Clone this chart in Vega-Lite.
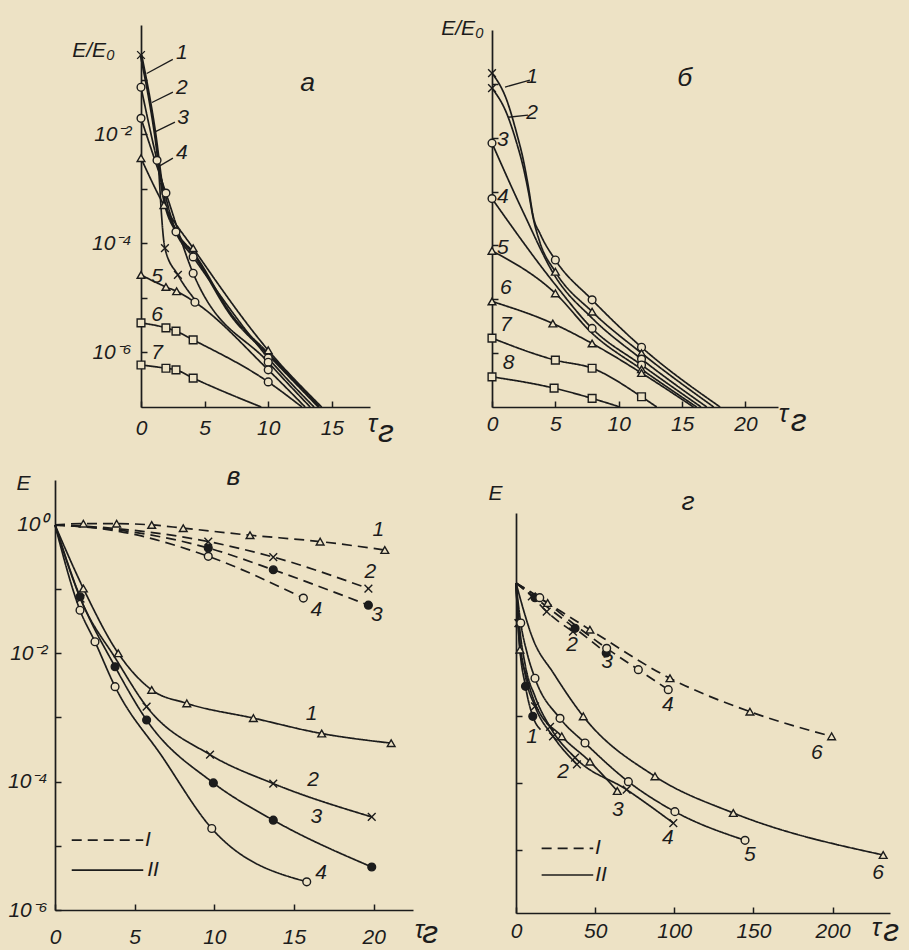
{
"$schema": "https://vega.github.io/schema/vega-lite/v6.json",
"width": 909, "height": 950, "autosize": "none", "padding": 0,
"background": "#ede2c5",
"config": {
 "view": {"stroke": null},
 "axis": {"domainColor":"#1c1c1c","domainWidth":1.7,"tickColor":"#1c1c1c","tickWidth":1.5,"labelColor":"#1c1c1c","labelFont":"Liberation Sans Narrow, Liberation Sans, sans-serif","labelFontSize":21,"labelFontStyle":"italic","titleFont":"Liberation Sans Narrow, Liberation Sans, sans-serif","titleColor":"#1c1c1c","titleFontStyle":"italic","titleFontWeight":"normal","grid":false,"labelFlush":false},
 "text": {"font":"Liberation Sans Narrow, Liberation Sans, sans-serif","fontStyle":"italic","color":"#1c1c1c"}
},
"datasets": {
 "curves": [
  {"p":"a","s":"1","d":"II","x":0,"y":0.282,"m":"x"},
  {"p":"a","s":"1","d":"II","x":1.1,"y":0.01047},
  {"p":"a","s":"1","d":"II","x":1.73,"y":8.32e-4},
  {"p":"a","s":"1","d":"II","x":2.83,"y":1.549e-4},
  {"p":"a","s":"1","d":"II","x":4.1,"y":6.61e-5},
  {"p":"a","s":"1","d":"II","x":7.2,"y":4.47e-6},
  {"p":"a","s":"1","d":"II","x":10,"y":9.33e-7},
  {"p":"a","s":"1","d":"II","x":14,"y":1e-7},
  {"p":"a","s":"1b","d":"II","x":1.35,"y":3.55e-3},
  {"p":"a","s":"1b","d":"II","x":1.88,"y":8.13e-5,"m":"x"},
  {"p":"a","s":"1b","d":"II","x":2.9,"y":2.63e-5,"m":"x"},
  {"p":"a","s":"1b","d":"II","x":4.3,"y":8.91e-6},
  {"p":"a","s":"2","d":"II","x":0,"y":0.0724,"m":"o"},
  {"p":"a","s":"2","d":"II","x":1.26,"y":3.31e-3,"m":"o"},
  {"p":"a","s":"2","d":"II","x":2.75,"y":1.622e-4,"m":"o"},
  {"p":"a","s":"2","d":"II","x":4.1,"y":5.62e-5,"m":"o"},
  {"p":"a","s":"2","d":"II","x":10,"y":7.94e-7,"m":"o"},
  {"p":"a","s":"2","d":"II","x":13.6,"y":1e-7},
  {"p":"a","s":"3","d":"II","x":0,"y":0.0195,"m":"o"},
  {"p":"a","s":"3","d":"II","x":1.96,"y":8.32e-4,"m":"o"},
  {"p":"a","s":"3","d":"II","x":4.1,"y":2.82e-5,"m":"o"},
  {"p":"a","s":"3","d":"II","x":10,"y":6.61e-7,"m":"o"},
  {"p":"a","s":"3","d":"II","x":13.3,"y":1e-7},
  {"p":"a","s":"4","d":"II","x":0,"y":3.63e-3,"m":"t"},
  {"p":"a","s":"4","d":"II","x":1.8,"y":5.01e-4,"m":"t"},
  {"p":"a","s":"4","d":"II","x":4.1,"y":8.13e-5,"m":"t"},
  {"p":"a","s":"4","d":"II","x":10,"y":1.096e-6,"m":"t"},
  {"p":"a","s":"4","d":"II","x":14.2,"y":1e-7},
  {"p":"a","s":"5","d":"II","x":0,"y":2.63e-5,"m":"t"},
  {"p":"a","s":"5","d":"II","x":1.96,"y":1.585e-5,"m":"t"},
  {"p":"a","s":"5","d":"II","x":2.8,"y":1.318e-5,"m":"t"},
  {"p":"a","s":"5","d":"II","x":4.24,"y":8.32e-6,"m":"o"},
  {"p":"a","s":"5","d":"II","x":10,"y":4.79e-7,"m":"o"},
  {"p":"a","s":"5","d":"II","x":12.9,"y":1e-7},
  {"p":"a","s":"6","d":"II","x":0,"y":3.47e-6,"m":"s"},
  {"p":"a","s":"6","d":"II","x":1.96,"y":2.82e-6,"m":"s"},
  {"p":"a","s":"6","d":"II","x":2.75,"y":2.45e-6,"m":"s"},
  {"p":"a","s":"6","d":"II","x":4.1,"y":1.70e-6,"m":"s"},
  {"p":"a","s":"6","d":"II","x":10,"y":2.88e-7,"m":"o"},
  {"p":"a","s":"6","d":"II","x":12.65,"y":1e-7},
  {"p":"a","s":"7","d":"II","x":0,"y":5.89e-7,"m":"s"},
  {"p":"a","s":"7","d":"II","x":1.96,"y":5.13e-7,"m":"s"},
  {"p":"a","s":"7","d":"II","x":2.75,"y":4.79e-7,"m":"s"},
  {"p":"a","s":"7","d":"II","x":4.1,"y":3.39e-7,"m":"s"},
  {"p":"a","s":"7","d":"II","x":9.45,"y":1e-7},

  {"p":"b","s":"1","d":"II","x":0,"y":0.158,"m":"x"},
  {"p":"b","s":"1","d":"II","x":1.16,"y":0.0501},
  {"p":"b","s":"1","d":"II","x":1.95,"y":0.012},
  {"p":"b","s":"1","d":"II","x":2.47,"y":3.89e-3},
  {"p":"b","s":"1","d":"II","x":2.87,"y":1.23e-3},
  {"p":"b","s":"1","d":"II","x":3.26,"y":3.39e-4},
  {"p":"b","s":"1","d":"II","x":3.79,"y":1.66e-4},
  {"p":"b","s":"1","d":"II","x":5,"y":5.37e-5,"m":"o"},
  {"p":"b","s":"1","d":"II","x":7.9,"y":9.77e-6,"m":"o"},
  {"p":"b","s":"1","d":"II","x":11.8,"y":1.288e-6,"m":"o"},
  {"p":"b","s":"1","d":"II","x":18,"y":1e-7},
  {"p":"b","s":"2","d":"II","x":0,"y":0.0832,"m":"x"},
  {"p":"b","s":"2","d":"II","x":1.16,"y":0.0282},
  {"p":"b","s":"2","d":"II","x":1.95,"y":7.94e-3},
  {"p":"b","s":"2","d":"II","x":2.47,"y":2.82e-3},
  {"p":"b","s":"2","d":"II","x":2.87,"y":1e-3},
  {"p":"b","s":"2","d":"II","x":3.26,"y":3.16e-4},
  {"p":"b","s":"2","d":"II","x":3.79,"y":1.122e-4},
  {"p":"b","s":"2","d":"II","x":5,"y":3.24e-5,"m":"t"},
  {"p":"b","s":"2","d":"II","x":7.9,"y":5.89e-6,"m":"t"},
  {"p":"b","s":"2","d":"II","x":11.8,"y":1e-6,"m":"t"},
  {"p":"b","s":"2","d":"II","x":17.5,"y":1e-7},
  {"p":"b","s":"3","d":"II","x":0,"y":7.94e-3,"m":"o"},
  {"p":"b","s":"3","d":"II","x":2.5,"y":3.98e-4},
  {"p":"b","s":"3","d":"II","x":5,"y":2.63e-5},
  {"p":"b","s":"3","d":"II","x":7.9,"y":4.47e-6},
  {"p":"b","s":"3","d":"II","x":11.8,"y":7.76e-7,"m":"o"},
  {"p":"b","s":"3","d":"II","x":16.95,"y":1e-7},
  {"p":"b","s":"4","d":"II","x":0,"y":7.41e-4,"m":"o"},
  {"p":"b","s":"4","d":"II","x":5,"y":1.862e-5},
  {"p":"b","s":"4","d":"II","x":7.9,"y":2.88e-6,"m":"o"},
  {"p":"b","s":"4","d":"II","x":11.8,"y":6.03e-7,"m":"o"},
  {"p":"b","s":"4","d":"II","x":16.5,"y":1e-7},
  {"p":"b","s":"5","d":"II","x":0,"y":7.94e-5,"m":"t"},
  {"p":"b","s":"5","d":"II","x":5,"y":1.288e-5,"m":"t"},
  {"p":"b","s":"5","d":"II","x":7.9,"y":2.34e-6},
  {"p":"b","s":"5","d":"II","x":11.8,"y":5.01e-7,"m":"t"},
  {"p":"b","s":"5","d":"II","x":16.15,"y":1e-7},
  {"p":"b","s":"6","d":"II","x":0,"y":9.12e-6,"m":"t"},
  {"p":"b","s":"6","d":"II","x":4.8,"y":3.55e-6,"m":"t"},
  {"p":"b","s":"6","d":"II","x":7.9,"y":1.514e-6,"m":"t"},
  {"p":"b","s":"6","d":"II","x":11.8,"y":4.27e-7,"m":"t"},
  {"p":"b","s":"6","d":"II","x":15.9,"y":1e-7},
  {"p":"b","s":"7","d":"II","x":0,"y":1.905e-6,"m":"s"},
  {"p":"b","s":"7","d":"II","x":5,"y":7.41e-7,"m":"s"},
  {"p":"b","s":"7","d":"II","x":7.9,"y":5.25e-7,"m":"s"},
  {"p":"b","s":"7","d":"II","x":11.8,"y":1.549e-7,"m":"s"},
  {"p":"b","s":"7","d":"II","x":13,"y":1e-7},
  {"p":"b","s":"8","d":"II","x":0,"y":3.63e-7,"m":"s"},
  {"p":"b","s":"8","d":"II","x":4.9,"y":2.24e-7,"m":"s"},
  {"p":"b","s":"8","d":"II","x":7.9,"y":1.445e-7,"m":"s"},
  {"p":"b","s":"8","d":"II","x":10.1,"y":1e-7},

  {"p":"v","s":"I1","d":"I","x":0,"y":1},
  {"p":"v","s":"I1","d":"I","x":1.78,"y":1.047,"m":"t"},
  {"p":"v","s":"I1","d":"I","x":3.87,"y":1.047,"m":"t"},
  {"p":"v","s":"I1","d":"I","x":6.07,"y":1.0,"m":"t"},
  {"p":"v","s":"I1","d":"I","x":8.05,"y":0.891,"m":"t"},
  {"p":"v","s":"I1","d":"I","x":12.24,"y":0.692,"m":"t"},
  {"p":"v","s":"I1","d":"I","x":16.64,"y":0.55,"m":"t"},
  {"p":"v","s":"I1","d":"I","x":20.7,"y":0.407,"m":"t"},
  {"p":"v","s":"I2","d":"I","x":0,"y":1},
  {"p":"v","s":"I2","d":"I","x":4,"y":0.871},
  {"p":"v","s":"I2","d":"I","x":9.62,"y":0.55,"m":"x"},
  {"p":"v","s":"I2","d":"I","x":13.7,"y":0.316,"m":"x"},
  {"p":"v","s":"I2","d":"I","x":19.67,"y":0.102,"m":"x"},
  {"p":"v","s":"I3","d":"I","x":0,"y":1},
  {"p":"v","s":"I3","d":"I","x":4,"y":0.832},
  {"p":"v","s":"I3","d":"I","x":9.62,"y":0.437,"m":"f"},
  {"p":"v","s":"I3","d":"I","x":13.7,"y":0.2,"m":"f"},
  {"p":"v","s":"I3","d":"I","x":19.67,"y":0.0562,"m":"f"},
  {"p":"v","s":"I4","d":"I","x":0,"y":1},
  {"p":"v","s":"I4","d":"I","x":4,"y":0.794},
  {"p":"v","s":"I4","d":"I","x":9.62,"y":0.324,"m":"o"},
  {"p":"v","s":"I4","d":"I","x":15.59,"y":0.0724,"m":"o"},
  {"p":"v","s":"II1","d":"II","x":0,"y":1},
  {"p":"v","s":"II1","d":"II","x":1.78,"y":0.1023,"m":"t"},
  {"p":"v","s":"II1","d":"II","x":3.97,"y":0.01,"m":"t"},
  {"p":"v","s":"II1","d":"II","x":6.07,"y":2.69e-3,"m":"t"},
  {"p":"v","s":"II1","d":"II","x":8.27,"y":1.66e-3,"m":"t"},
  {"p":"v","s":"II1","d":"II","x":12.45,"y":9.77e-4,"m":"t"},
  {"p":"v","s":"II1","d":"II","x":16.74,"y":5.62e-4,"m":"t"},
  {"p":"v","s":"II1","d":"II","x":21.1,"y":3.98e-4,"m":"t"},
  {"p":"v","s":"II2","d":"II","x":0,"y":1},
  {"p":"v","s":"II2","d":"II","x":1.6,"y":0.0708,"m":"x"},
  {"p":"v","s":"II2","d":"II","x":3.85,"y":7.94e-3},
  {"p":"v","s":"II2","d":"II","x":5.75,"y":1.479e-3,"m":"x"},
  {"p":"v","s":"II2","d":"II","x":9.73,"y":2.63e-4,"m":"x"},
  {"p":"v","s":"II2","d":"II","x":13.7,"y":9.33e-5,"m":"x"},
  {"p":"v","s":"II2","d":"II","x":19.88,"y":2.82e-5,"m":"x"},
  {"p":"v","s":"II3","d":"II","x":0,"y":1},
  {"p":"v","s":"II3","d":"II","x":1.57,"y":0.0759,"m":"f"},
  {"p":"v","s":"II3","d":"II","x":3.77,"y":6.17e-3,"m":"f"},
  {"p":"v","s":"II3","d":"II","x":5.75,"y":9.12e-4,"m":"f"},
  {"p":"v","s":"II3","d":"II","x":9.94,"y":9.55e-5,"m":"f"},
  {"p":"v","s":"II3","d":"II","x":13.7,"y":2.51e-5,"m":"f"},
  {"p":"v","s":"II3","d":"II","x":19.88,"y":4.68e-6,"m":"f"},
  {"p":"v","s":"II4","d":"II","x":0,"y":1},
  {"p":"v","s":"II4","d":"II","x":1.57,"y":0.0468,"m":"o"},
  {"p":"v","s":"II4","d":"II","x":2.51,"y":0.0151,"m":"o"},
  {"p":"v","s":"II4","d":"II","x":3.77,"y":3.02e-3,"m":"o"},
  {"p":"v","s":"II4","d":"II","x":6.7,"y":2.51e-4},
  {"p":"v","s":"II4","d":"II","x":9.84,"y":1.862e-5,"m":"o"},
  {"p":"v","s":"II4","d":"II","x":15.8,"y":2.75e-6,"m":"o"},
  {"p":"v","s":"legI","d":"I","x":1.05,"y":1.23e-5},
  {"p":"v","s":"legI","d":"I","x":5.54,"y":1.23e-5},
  {"p":"v","s":"legII","d":"II","x":1.05,"y":4.17e-6},
  {"p":"v","s":"legII","d":"II","x":5.54,"y":4.17e-6},

  {"p":"g","s":"I2","d":"I","x":0,"y":1},
  {"p":"g","s":"I2","d":"I","x":10,"y":0.631,"m":"x"},
  {"p":"g","s":"I2","d":"I","x":19.4,"y":0.372,"m":"x"},
  {"p":"g","s":"I2","d":"I","x":36,"y":0.186,"m":"x"},
  {"p":"g","s":"I3","d":"I","x":0,"y":1},
  {"p":"g","s":"I3","d":"I","x":12,"y":0.603,"m":"f"},
  {"p":"g","s":"I3","d":"I","x":37.3,"y":0.209,"m":"f"},
  {"p":"g","s":"I3","d":"I","x":57,"y":0.0891,"m":"f"},
  {"p":"g","s":"I4","d":"I","x":0,"y":1},
  {"p":"g","s":"I4","d":"I","x":15,"y":0.603,"m":"o"},
  {"p":"g","s":"I4","d":"I","x":40,"y":0.209},
  {"p":"g","s":"I4","d":"I","x":57.3,"y":0.1047,"m":"o"},
  {"p":"g","s":"I4","d":"I","x":77.3,"y":0.0501,"m":"o"},
  {"p":"g","s":"I4","d":"I","x":96.2,"y":0.0251,"m":"o"},
  {"p":"g","s":"I6","d":"I","x":0,"y":1},
  {"p":"g","s":"I6","d":"I","x":20,"y":0.501,"m":"t"},
  {"p":"g","s":"I6","d":"I","x":46.7,"y":0.1995,"m":"t"},
  {"p":"g","s":"I6","d":"I","x":97.3,"y":0.0372,"m":"t"},
  {"p":"g","s":"I6","d":"I","x":147.8,"y":0.01175,"m":"t"},
  {"p":"g","s":"I6","d":"I","x":199.4,"y":5.01e-3,"m":"t"},
  {"p":"g","s":"II1","d":"II","x":0,"y":1},
  {"p":"g","s":"II1","d":"II","x":2,"y":0.141},
  {"p":"g","s":"II1","d":"II","x":6,"y":0.0282,"m":"f"},
  {"p":"g","s":"II1","d":"II","x":10.6,"y":0.01,"m":"f"},
  {"p":"g","s":"II1","d":"II","x":15.5,"y":6.31e-3},
  {"p":"g","s":"II2","d":"II","x":0,"y":1},
  {"p":"g","s":"II2","d":"II","x":1.5,"y":0.251,"m":"x"},
  {"p":"g","s":"II2","d":"II","x":6,"y":0.0398},
  {"p":"g","s":"II2","d":"II","x":12,"y":0.01413,"m":"x"},
  {"p":"g","s":"II2","d":"II","x":23.4,"y":5.01e-3,"m":"x"},
  {"p":"g","s":"II2","d":"II","x":38.5,"y":1.905e-3,"m":"x"},
  {"p":"g","s":"II3","d":"II","x":0,"y":1},
  {"p":"g","s":"II3","d":"II","x":2.5,"y":0.1,"m":"t"},
  {"p":"g","s":"II3","d":"II","x":6,"y":0.0447},
  {"p":"g","s":"II3","d":"II","x":12,"y":0.01585},
  {"p":"g","s":"II3","d":"II","x":28.9,"y":5.01e-3,"m":"t"},
  {"p":"g","s":"II3","d":"II","x":46.7,"y":2.09e-3,"m":"t"},
  {"p":"g","s":"II3","d":"II","x":64,"y":7.59e-4,"m":"t"},
  {"p":"g","s":"II4","d":"II","x":0,"y":1},
  {"p":"g","s":"II4","d":"II","x":2,"y":0.251,"m":"x"},
  {"p":"g","s":"II4","d":"II","x":6,"y":0.0562},
  {"p":"g","s":"II4","d":"II","x":12,"y":0.01995},
  {"p":"g","s":"II4","d":"II","x":21.5,"y":6.92e-3,"m":"x"},
  {"p":"g","s":"II4","d":"II","x":37.3,"y":2.40e-3,"m":"x"},
  {"p":"g","s":"II4","d":"II","x":69.9,"y":7.94e-4,"m":"x"},
  {"p":"g","s":"II4","d":"II","x":99.4,"y":2.51e-4,"m":"x"},
  {"p":"g","s":"II5","d":"II","x":0,"y":1},
  {"p":"g","s":"II5","d":"II","x":3,"y":0.251,"m":"o"},
  {"p":"g","s":"II5","d":"II","x":7,"y":0.0891},
  {"p":"g","s":"II5","d":"II","x":12,"y":0.0372,"m":"o"},
  {"p":"g","s":"II5","d":"II","x":27.8,"y":9.33e-3,"m":"o"},
  {"p":"g","s":"II5","d":"II","x":43.6,"y":3.98e-3,"m":"o"},
  {"p":"g","s":"II5","d":"II","x":71,"y":1.047e-3,"m":"o"},
  {"p":"g","s":"II5","d":"II","x":100.4,"y":3.72e-4,"m":"o"},
  {"p":"g","s":"II5","d":"II","x":144.7,"y":1.38e-4,"m":"o"},
  {"p":"g","s":"II6","d":"II","x":0,"y":1},
  {"p":"g","s":"II6","d":"II","x":10.9,"y":0.141},
  {"p":"g","s":"II6","d":"II","x":23.6,"y":0.0447},
  {"p":"g","s":"II6","d":"II","x":42.5,"y":0.01,"m":"t"},
  {"p":"g","s":"II6","d":"II","x":87.8,"y":1.259e-3,"m":"t"},
  {"p":"g","s":"II6","d":"II","x":137.3,"y":3.55e-4,"m":"t"},
  {"p":"g","s":"II6","d":"II","x":232,"y":8.32e-5,"m":"t"},
  {"p":"g","s":"legI","d":"I","x":16.2,"y":1.047e-4},
  {"p":"g","s":"legI","d":"I","x":48.8,"y":1.047e-4},
  {"p":"g","s":"legII","d":"II","x":16.2,"y":4.17e-5},
  {"p":"g","s":"legII","d":"II","x":48.8,"y":4.17e-5}
 ],
 "labels": [
  {"p":"a","t":"1","k":"n","x":3.22,"y":0.302},
  {"p":"a","t":"2","k":"n","x":3.22,"y":0.0692},
  {"p":"a","t":"3","k":"n","x":3.3,"y":0.0195},
  {"p":"a","t":"4","k":"n","x":3.22,"y":4.47e-3},
  {"p":"a","t":"5","k":"n","x":1.26,"y":2.4e-5},
  {"p":"a","t":"6","k":"n","x":1.26,"y":4.79e-6},
  {"p":"a","t":"7","k":"n","x":1.26,"y":9.77e-7},
  {"p":"a","t":"а","k":"ttl","x":13.1,"y":0.0851},
  {"p":"a","t":"г","k":"sub","x":19.25,"y":3.48e-8},
  {"p":"b","t":"1","k":"n","x":3.16,"y":0.135},
  {"p":"b","t":"2","k":"n","x":3.16,"y":0.0288},
  {"p":"b","t":"3","k":"n","x":0.85,"y":9.12e-3},
  {"p":"b","t":"4","k":"n","x":0.85,"y":7.94e-4},
  {"p":"b","t":"5","k":"n","x":0.85,"y":8.91e-5},
  {"p":"b","t":"6","k":"n","x":1.1,"y":1.62e-5},
  {"p":"b","t":"7","k":"n","x":1.1,"y":3.31e-6},
  {"p":"b","t":"8","k":"n","x":1.3,"y":6.61e-7},
  {"p":"b","t":"б","k":"ttl","x":15.2,"y":0.129},
  {"p":"b","t":"г","k":"sub","x":24.2,"y":5.5e-8},
  {"p":"v","t":"1","k":"n","x":20.3,"y":0.832},
  {"p":"v","t":"2","k":"n","x":19.8,"y":0.186},
  {"p":"v","t":"3","k":"n","x":20.2,"y":0.0398},
  {"p":"v","t":"4","k":"n","x":16.4,"y":0.0468},
  {"p":"v","t":"1","k":"n","x":16.1,"y":1.148e-3},
  {"p":"v","t":"2","k":"n","x":16.2,"y":1.072e-4},
  {"p":"v","t":"3","k":"n","x":16.4,"y":2.82e-5},
  {"p":"v","t":"4","k":"n","x":16.7,"y":3.72e-6},
  {"p":"v","t":"в","k":"ttl","x":11.2,"y":5.58},
  {"p":"v","t":"I","k":"n","x":5.84,"y":1.23e-5},
  {"p":"v","t":"II","k":"n","x":6.15,"y":4.17e-6},
  {"p":"v","t":"г","k":"sub","x":23.55,"y":4.38e-7},
  {"p":"g","t":"2","k":"n","x":35.4,"y":0.1175},
  {"p":"g","t":"3","k":"n","x":57.5,"y":0.0661},
  {"p":"g","t":"4","k":"n","x":96,"y":0.01479},
  {"p":"g","t":"6","k":"n","x":190,"y":2.82e-3},
  {"p":"g","t":"1","k":"n","x":10.1,"y":4.9e-3},
  {"p":"g","t":"2","k":"n","x":29.7,"y":1.445e-3},
  {"p":"g","t":"3","k":"n","x":64.4,"y":3.98e-4},
  {"p":"g","t":"4","k":"n","x":96,"y":1.479e-4},
  {"p":"g","t":"5","k":"n","x":147.8,"y":8.32e-5},
  {"p":"g","t":"6","k":"n","x":228.7,"y":4.47e-5},
  {"p":"g","t":"г","k":"ttl","x":108.7,"y":16.2},
  {"p":"g","t":"I","k":"n","x":51.8,"y":1.047e-4},
  {"p":"g","t":"II","k":"n","x":53.7,"y":4.17e-5},
  {"p":"g","t":"г","k":"sub","x":237,"y":6.03e-6}
 ],
 "leaders": [
  {"p":"a","x":2.5,"y":0.234,"x2":0.45,"y2":0.129},
  {"p":"a","x":2.51,"y":0.0589,"x2":0.86,"y2":0.038},
  {"p":"a","x":2.67,"y":0.0166,"x2":1.1,"y2":0.011},
  {"p":"a","x":2.51,"y":3.63e-3,"x2":1.34,"y2":2.51e-3},
  {"p":"b","x":2.99,"y":0.1175,"x2":1.03,"y2":0.0871},
  {"p":"b","x":2.84,"y":0.0263,"x2":1.26,"y2":0.024}
 ]
},
"layer": [
 {
  "encoding": {
   "x": {"field":"x","type":"quantitative","scale":{"domain":[0,18],"range":[141,370],"nice":false,"zero":false},
         "axis":{"orient":"bottom","offset":-543,"values":[0,5,10,15],"tickSize":-6,"labelPadding":16,"title":"τ","titleX":372,"titleY":16,"titleAlign":"center","titleBaseline":"middle","titleFontSize":25}},
   "y": {"field":"y","type":"quantitative","scale":{"type":"log","domain":[1e-7,1],"range":[407,25],"nice":false},
         "axis":{"orient":"left","offset":-141,"values":[1e-6,1e-5,1e-4,1e-3,1e-2,1e-1],"tickSize":-6,"labelPadding":16,"labelExpr":"round(log(datum.value)/LN10)==-2?'10⁻²':round(log(datum.value)/LN10)==-4?'10⁻⁴':round(log(datum.value)/LN10)==-6?'10⁻⁶':''","title":"E/E₀","titleAngle":0,"titleX":-48,"titleY":50,"titleAlign":"center","titleBaseline":"middle","titleFontSize":21}}
  },
  "layer": [
   {"data":{"name":"curves"},"transform":[{"filter":"datum.p==='a'"}],"mark":{"type":"line","interpolate":"monotone","stroke":"#1c1c1c"},
    "encoding":{"detail":{"field":"s"},"strokeDash":{"field":"d","type":"nominal","scale":{"domain":["I","II"],"range":[[10,6],[1,0]]},"legend":null},
      "strokeWidth":{"condition":{"test":"datum.s==='1'","value":3},"value":1.7}}},
   {"data":{"name":"curves"},"transform":[{"filter":"datum.p==='a' && datum.m"}],"mark":{"type":"point","filled":true,"stroke":"#1c1c1c","strokeWidth":1.4,"size":60,"opacity":1},
    "encoding":{"shape":{"field":"m","type":"nominal","scale":{"domain":["o","t","s","x","f"],"range":["circle","triangle-up","square","M-1,-1L1,1M-1,1L1,-1","circle"]},"legend":null},
      "fill":{"condition":{"test":"datum.m==='f'","value":"#1c1c1c"},"value":"#ede2c5"}}},
   {"data":{"name":"labels"},"transform":[{"filter":"datum.p==='a'"}],"mark":{"type":"text","fontStyle":"italic"},
    "encoding":{"text":{"field":"t"},"size":{"field":"k","type":"nominal","scale":{"domain":["n","ttl","sub"],"range":[21,32,16]},"legend":null}}},
   {"data":{"name":"leaders"},"transform":[{"filter":"datum.p==='a'"}],"mark":{"type":"rule","stroke":"#1c1c1c","strokeWidth":1.3},
    "encoding":{"x2":{"field":"x2"},"y2":{"field":"y2"}}}
  ]
 },
 {
  "encoding": {
   "x": {"field":"x","type":"quantitative","scale":{"domain":[0,22.57],"range":[492,778],"nice":false,"zero":false},
         "axis":{"orient":"bottom","offset":-543,"values":[0,5,10,15,20],"tickSize":-6,"labelPadding":12,"title":"τ","titleX":783,"titleY":6,"titleAlign":"center","titleBaseline":"middle","titleFontSize":25}},
   "y": {"field":"y","type":"quantitative","scale":{"type":"log","domain":[1e-7,1],"range":[407,30],"nice":false},
         "axis":{"orient":"left","offset":-492,"values":[1e-6,1e-5,1e-4,1e-3,1e-2,1e-1],"tickSize":-6,"labels":false,"title":"E/E₀","titleAngle":0,"titleX":-30,"titleY":28,"titleAlign":"center","titleBaseline":"middle","titleFontSize":21}}
  },
  "layer": [
   {"data":{"name":"curves"},"transform":[{"filter":"datum.p==='b'"}],"mark":{"type":"line","interpolate":"monotone","stroke":"#1c1c1c","strokeWidth":1.7},
    "encoding":{"detail":{"field":"s"},"strokeDash":{"field":"d","type":"nominal","scale":{"domain":["I","II"],"range":[[10,6],[1,0]]},"legend":null}}},
   {"data":{"name":"curves"},"transform":[{"filter":"datum.p==='b' && datum.m"}],"mark":{"type":"point","filled":true,"stroke":"#1c1c1c","strokeWidth":1.4,"size":60,"opacity":1},
    "encoding":{"shape":{"field":"m","type":"nominal","scale":{"domain":["o","t","s","x","f"],"range":["circle","triangle-up","square","M-1,-1L1,1M-1,1L1,-1","circle"]},"legend":null},
      "fill":{"condition":{"test":"datum.m==='f'","value":"#1c1c1c"},"value":"#ede2c5"}}},
   {"data":{"name":"labels"},"transform":[{"filter":"datum.p==='b'"}],"mark":{"type":"text","fontStyle":"italic"},
    "encoding":{"text":{"field":"t"},"size":{"field":"k","type":"nominal","scale":{"domain":["n","ttl","sub"],"range":[21,32,16]},"legend":null}}},
   {"data":{"name":"leaders"},"transform":[{"filter":"datum.p==='b'"}],"mark":{"type":"rule","stroke":"#1c1c1c","strokeWidth":1.3},
    "encoding":{"x2":{"field":"x2"},"y2":{"field":"y2"}}}
  ]
 },
 {
  "encoding": {
   "x": {"field":"x","type":"quantitative","scale":{"domain":[0,22.47],"range":[55,413],"nice":false,"zero":false},
         "axis":{"orient":"bottom","offset":-40,"values":[0,5,10,15,20],"tickSize":-6,"labelPadding":22,"title":"τ","titleX":419,"titleY":19,"titleAlign":"center","titleBaseline":"middle","titleFontSize":25}},
   "y": {"field":"y","type":"quantitative","scale":{"type":"log","domain":[1e-6,5.012],"range":[910,480],"nice":false},
         "axis":{"orient":"left","offset":-55,"values":[1e-6,1e-5,1e-4,1e-3,1e-2,1e-1,1],"tickSize":-6,"labelPadding":14,"labelExpr":"round(log(datum.value)/LN10)==0?'10⁰':round(log(datum.value)/LN10)==-2?'10⁻²':round(log(datum.value)/LN10)==-4?'10⁻⁴':round(log(datum.value)/LN10)==-6?'10⁻⁶':''","title":"E","titleAngle":0,"titleX":-32,"titleY":483,"titleAlign":"center","titleBaseline":"middle","titleFontSize":21}}
  },
  "layer": [
   {"data":{"name":"curves"},"transform":[{"filter":"datum.p==='v'"}],"mark":{"type":"line","interpolate":"monotone","stroke":"#1c1c1c","strokeWidth":1.7},
    "encoding":{"detail":{"field":"s"},"strokeDash":{"field":"d","type":"nominal","scale":{"domain":["I","II"],"range":[[10,6],[1,0]]},"legend":null}}},
   {"data":{"name":"curves"},"transform":[{"filter":"datum.p==='v' && datum.m"}],"mark":{"type":"point","filled":true,"stroke":"#1c1c1c","strokeWidth":1.4,"size":60,"opacity":1},
    "encoding":{"shape":{"field":"m","type":"nominal","scale":{"domain":["o","t","s","x","f"],"range":["circle","triangle-up","square","M-1,-1L1,1M-1,1L1,-1","circle"]},"legend":null},
      "fill":{"condition":{"test":"datum.m==='f'","value":"#1c1c1c"},"value":"#ede2c5"}}},
   {"data":{"name":"labels"},"transform":[{"filter":"datum.p==='v'"}],"mark":{"type":"text","fontStyle":"italic"},
    "encoding":{"text":{"field":"t"},"size":{"field":"k","type":"nominal","scale":{"domain":["n","ttl","sub"],"range":[21,32,16]},"legend":null}}}
  ]
 },
 {
  "encoding": {
   "x": {"field":"x","type":"quantitative","scale":{"domain":[0,236.3],"range":[516,890],"nice":false,"zero":false},
         "axis":{"orient":"bottom","offset":-37,"values":[0,50,100,150,200],"tickSize":-6,"labelPadding":13,"title":"τ","titleX":876,"titleY":14,"titleAlign":"center","titleBaseline":"middle","titleFontSize":25}},
   "y": {"field":"y","type":"quantitative","scale":{"type":"log","domain":[1.122e-5,11.22],"range":[913,513],"nice":false},
         "axis":{"orient":"left","offset":-516,"values":[1e-4,1e-3,1e-2,1e-1],"tickSize":-6,"labels":false,"title":"E","titleAngle":0,"titleX":-21,"titleY":493,"titleAlign":"center","titleBaseline":"middle","titleFontSize":21}}
  },
  "layer": [
   {"data":{"name":"curves"},"transform":[{"filter":"datum.p==='g'"}],"mark":{"type":"line","interpolate":"monotone","stroke":"#1c1c1c","strokeWidth":1.7},
    "encoding":{"detail":{"field":"s"},"strokeDash":{"field":"d","type":"nominal","scale":{"domain":["I","II"],"range":[[10,6],[1,0]]},"legend":null}}},
   {"data":{"name":"curves"},"transform":[{"filter":"datum.p==='g' && datum.m"}],"mark":{"type":"point","filled":true,"stroke":"#1c1c1c","strokeWidth":1.4,"size":60,"opacity":1},
    "encoding":{"shape":{"field":"m","type":"nominal","scale":{"domain":["o","t","s","x","f"],"range":["circle","triangle-up","square","M-1,-1L1,1M-1,1L1,-1","circle"]},"legend":null},
      "fill":{"condition":{"test":"datum.m==='f'","value":"#1c1c1c"},"value":"#ede2c5"}}},
   {"data":{"name":"labels"},"transform":[{"filter":"datum.p==='g'"}],"mark":{"type":"text","fontStyle":"italic"},
    "encoding":{"text":{"field":"t"},"size":{"field":"k","type":"nominal","scale":{"domain":["n","ttl","sub"],"range":[21,32,16]},"legend":null}}}
  ]
 }
],
"resolve": {"scale": {"x":"independent","y":"independent"}}
}
